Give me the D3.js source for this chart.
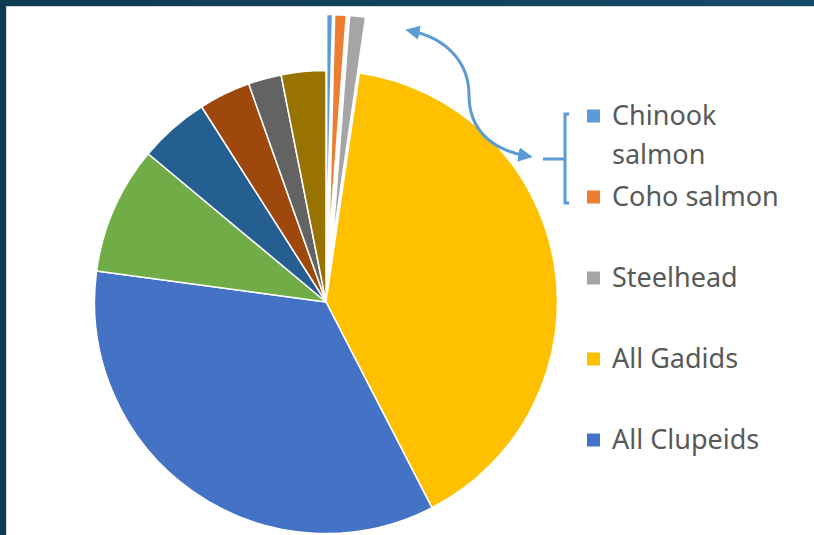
<!DOCTYPE html>
<html>
<head>
<meta charset="utf-8">
<script src="https://cdn.jsdelivr.net/npm/d3@7"></script>
<style>
  html, body { margin: 0; padding: 0; background: #fff; }
  svg { display: block; }
</style>
</head>
<body>
<div id="chart"></div>
<script>
// Share of catch by group (percent)
const categories = ["Chinook salmon", "Coho salmon", "Steelhead", "All Gadids", "All Clupeids",
                    "Group 6", "Group 7", "Group 8", "Group 9", "Group 10"];
const values = [0.4, 0.8, 1.1, 40.0, 34.6, 8.9, 4.9, 3.6, 2.3, 3.1];
const colors = ["#5B9BD5", "#ED7D31", "#A5A5A5", "#FFC000", "#4472C4",
                "#70AD47", "#255E91", "#9E480E", "#636363", "#997300"];
const exploded = ["Chinook salmon", "Coho salmon", "Steelhead"];
const legendShown = 5; // only the first five entries fit

const width = 814, height = 535;
const cx = 326, cy = 302, radius = 231.5, explodeBy = 56;

const svg = d3.select("#chart").append("svg")
    .attr("width", width)
    .attr("height", height);

// Frame: dark band on top and left with a thin grey inner line
const grad = svg.append("defs").append("linearGradient")
    .attr("id", "frame").attr("x1", 0).attr("x2", 1);
grad.append("stop").attr("offset", 0).attr("stop-color", "#0e3a52");
grad.append("stop").attr("offset", 1).attr("stop-color", "#144b68");

svg.append("rect").attr("width", width).attr("height", height).attr("fill", "#fff");
svg.append("rect").attr("x", 0).attr("y", 0).attr("width", width).attr("height", 6).attr("fill", "url(#frame)");
svg.append("rect").attr("x", 0).attr("y", 0).attr("width", 6).attr("height", height).attr("fill", "#0e3a52");
svg.append("rect").attr("x", 6).attr("y", 6).attr("width", width - 6).attr("height", 1).attr("fill", "#d4d4d4");
svg.append("rect").attr("x", 6).attr("y", 6).attr("width", 1).attr("height", height - 6).attr("fill", "#d4d4d4");

// Pie
const pie = d3.pie().sort(null).value(d => d.value);
const arc = d3.arc().innerRadius(0).outerRadius(radius);
const data = categories.map((c, i) => ({ name: c, value: values[i], color: colors[i] }));

const g = svg.append("g").attr("transform", `translate(${cx},${cy})`);
g.selectAll("path")
    .data(pie(data))
    .join("path")
    .attr("d", arc)
    .attr("fill", d => d.data.color)
    .attr("stroke", "#fff")
    .attr("stroke-width", 1.5)
    .attr("stroke-linejoin", "round")
    .attr("transform", d => {
        if (!exploded.includes(d.data.name)) return null;
        const mid = (d.startAngle + d.endAngle) / 2;
        return `translate(${Math.sin(mid) * explodeBy},${-Math.cos(mid) * explodeBy})`;
    });

// Legend
const legend = svg.append("g").attr("font-family", "'Noto Sans', 'Open Sans', sans-serif")
    .attr("font-size", 27).attr("fill", "#595959");
const rowY = d3.scaleLinear().domain([0, 1]).range([116, 197]);
const rows = legend.selectAll("g")
    .data(data.slice(0, legendShown))
    .join("g")
    .attr("transform", (d, i) => `translate(587,${rowY(i)})`);
rows.append("rect")
    .attr("x", 0).attr("y", -6.5).attr("width", 13).attr("height", 13)
    .attr("fill", d => d.color);
rows.append("text")
    .attr("x", 25).attr("y", 9)
    .each(function (d) {
        const t = d3.select(this);
        if (d.name === "Chinook salmon") {
            t.append("tspan").attr("x", 25).attr("dy", 0).text("Chinook");
            t.append("tspan").attr("x", 25).attr("dy", 39).text("salmon");
        } else {
            t.text(d.name);
        }
    });

// Bracket grouping the salmon entries
const accent = "#5B9BD5";
svg.append("path")
    .attr("d", "M569,114 L565,114 L565,203 L569,203 M565,159 L543,159")
    .attr("fill", "none").attr("stroke", accent).attr("stroke-width", 3);

// Curved double-headed arrow from the exploded slices to the bracket
const marker = svg.select("defs").append("marker")
    .attr("id", "head").attr("viewBox", "0 0 10 10")
    .attr("refX", 6).attr("refY", 5)
    .attr("markerWidth", 4.8).attr("markerHeight", 4.8)
    .attr("orient", "auto-start-reverse");
marker.append("path").attr("d", "M0,0 L10,5 L0,10 Z").attr("fill", accent);

svg.append("path")
    .attr("d", "M411,31 C446,38 469,62 469,95 C469,130 492,150 527,156")
    .attr("fill", "none").attr("stroke", accent).attr("stroke-width", 3)
    .attr("marker-start", "url(#head)")
    .attr("marker-end", "url(#head)");
</script>
</body>
</html>
